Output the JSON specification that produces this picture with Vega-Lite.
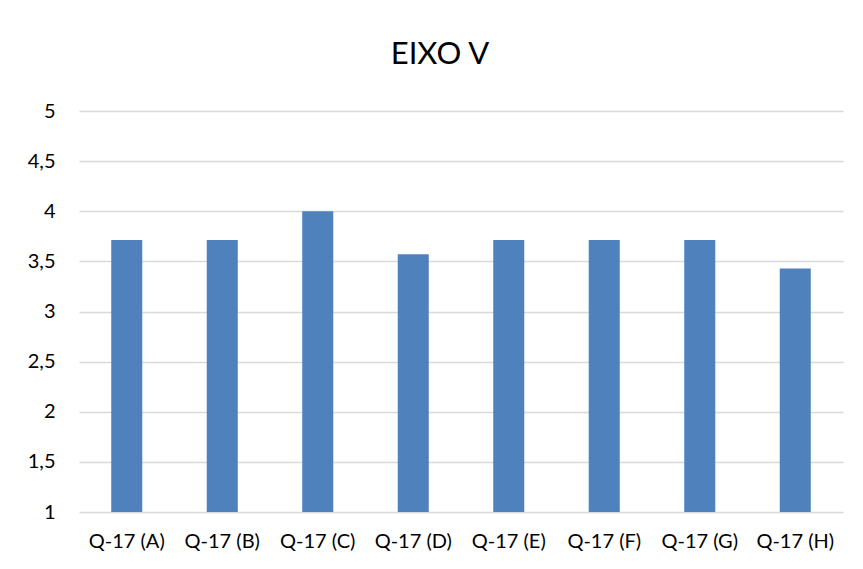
{
  "$schema": "https://vega.github.io/schema/vega-lite/v6.json",
  "autosize": {"type": "none"},
  "width": 764,
  "height": 401,
  "padding": {"left": 79, "top": 111, "right": 20, "bottom": 57},
  "background": "white",
  "title": {
    "text": "EIXO V",
    "font": "Lato",
    "fontSize": 31,
    "fontWeight": "normal",
    "color": "#000000",
    "anchor": "middle",
    "dx": -21,
    "baseline": "alphabetic",
    "offset": 6
  },
  "data": {
    "values": [
      {"q": "Q-17 (A)", "v": 3.714},
      {"q": "Q-17 (B)", "v": 3.714},
      {"q": "Q-17 (C)", "v": 4.0},
      {"q": "Q-17 (D)", "v": 3.571},
      {"q": "Q-17 (E)", "v": 3.714},
      {"q": "Q-17 (F)", "v": 3.714},
      {"q": "Q-17 (G)", "v": 3.714},
      {"q": "Q-17 (H)", "v": 3.429}
    ]
  },
  "mark": {"type": "bar", "color": "#4F81BD"},
  "encoding": {
    "x": {
      "field": "q",
      "type": "nominal",
      "sort": null,
      "scale": {"paddingInner": 0.675, "paddingOuter": 0.3375},
      "axis": {
        "title": null,
        "labelAngle": 0,
        "domain": false,
        "ticks": false,
        "labelFont": "Lato",
        "labelFontSize": 20,
        "labelColor": "#000000",
        "labelPadding": 19
      }
    },
    "y": {
      "field": "v",
      "type": "quantitative",
      "scale": {"domain": [1, 5], "zero": false, "nice": false},
      "axis": {
        "title": null,
        "values": [1, 1.5, 2, 2.5, 3, 3.5, 4, 4.5, 5],
        "labelExpr": "replace(toString(datum.value), '.', ',')",
        "domain": false,
        "ticks": false,
        "grid": true,
        "gridColor": "#D9D9D9",
        "gridWidth": 1.5,
        "labelFont": "Lato",
        "labelFontSize": 20,
        "labelColor": "#000000",
        "labelPadding": 24
      }
    },
    "y2": {"datum": 1}
  },
  "config": {"view": {"stroke": null}}
}
